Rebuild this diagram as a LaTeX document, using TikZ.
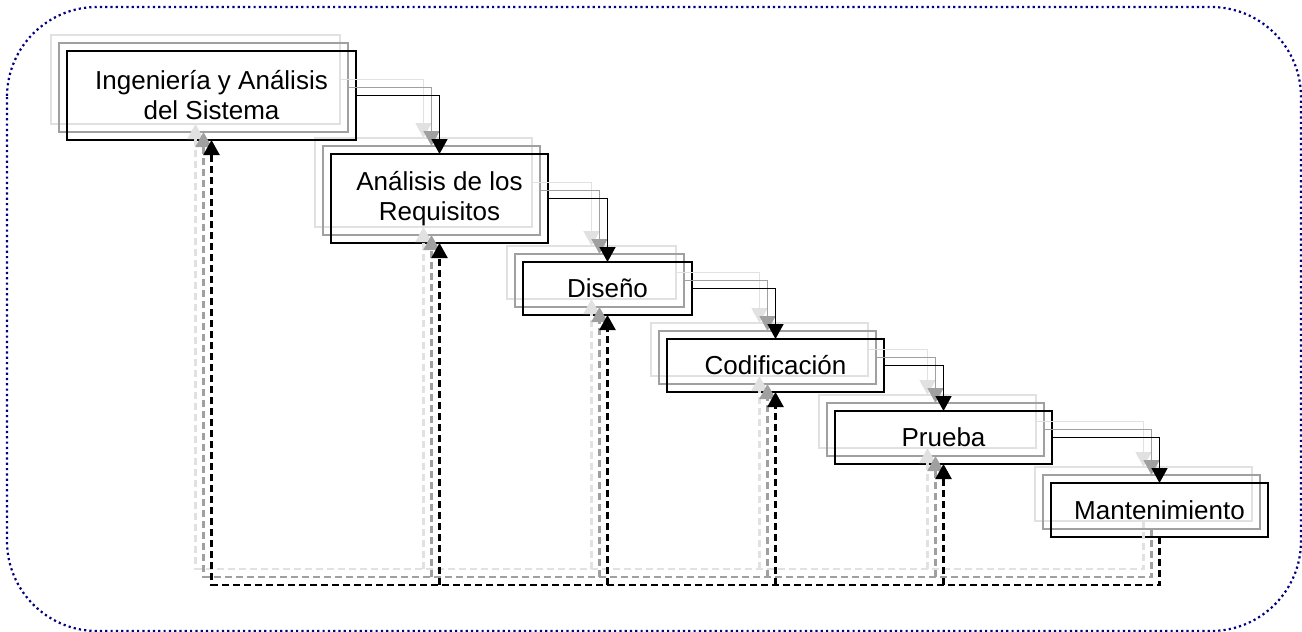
\documentclass[tikz,border=0pt]{standalone}
\usepackage{fontspec}
\setmainfont{Liberation Sans}
\usepackage{xcolor}
\usepackage{tikz}
\usetikzlibrary{arrows.meta,backgrounds,fit,positioning}

\definecolor{marino}{RGB}{0,0,128}
\definecolor{sombra}{RGB}{160,160,160}
\definecolor{sombraclara}{RGB}{225,225,225}

\tikzset{
    fase/.style={draw, line width=2.4pt, outer sep=0pt, align=center,
        font=\fontsize{26}{30}\selectfont},
    fasesombra/.style={draw, line width=2pt, inner sep=0pt, outer sep=0pt},
    flecha/.style={line width=1.6pt, -{Triangle[width=16pt,length=15pt]}},
    retro/.style={flecha, line width=2.3pt, dash pattern=on 7pt off 4pt}
}

\begin{document}
\begin{tikzpicture}[x=1pt,y=-1pt]
                \useasboundingbox (0,0) rectangle (1302,632);

                \draw[
                    color=marino,
                    line width=2.2pt,
                    dash pattern=on 2.2pt off 3.1pt,
                    rounded corners=90pt
                ] (7,7) rectangle (1301,631);

                \node[fase, minimum width=289pt, minimum height=89pt] (ing) at (211.5,95.5) {Ingeniería y Análisis\\del Sistema};
                \node[fase, minimum width=217pt, minimum height=89pt] (req) at (439.5,198.5) {Análisis de los\\Requisitos};
                \node[fase, minimum width=169pt, minimum height=53pt] (dis) at (607.5,288.5) {Diseño};
                \node[fase, minimum width=217pt, minimum height=53pt] (cod) at (775.5,365.5) {Codificación};
                \node[fase, minimum width=217pt, minimum height=53pt] (pru) at (943.5,437.5) {Prueba};
                \node[fase, minimum width=217pt, minimum height=54pt] (man) at (1159.5,510) {Mantenimiento};

                \begin{scope}[on background layer]
                    \foreach \d/\col in {16/sombraclara,8/sombra}
                        \foreach \n in {ing,req,dis,cod,pru,man}
                            \node[fasesombra, draw=\col, fit=(\n), xshift=-\d pt, yshift=\d pt] (\n\d) {};
                \end{scope}

                \foreach \d/\col in {16/sombraclara,8/sombra,{}/black} {
                    \foreach \a/\b in {ing/req,req/dis,dis/cod,cod/pru,pru/man}
                        \draw[flecha, \col] (\a\d.east) -| (\b\d.north);
                    \coordinate (base\d) at ([yshift=-48pt]man\d.south);
                    \draw[retro, \col] (man\d.south) -- (base\d) -| (ing\d.south);
                    \foreach \n in {req,dis,cod,pru}
                        \draw[retro, \col] (\n\d.south |- base\d) -- (\n\d.south);
                }

\end{tikzpicture}
\end{document}
